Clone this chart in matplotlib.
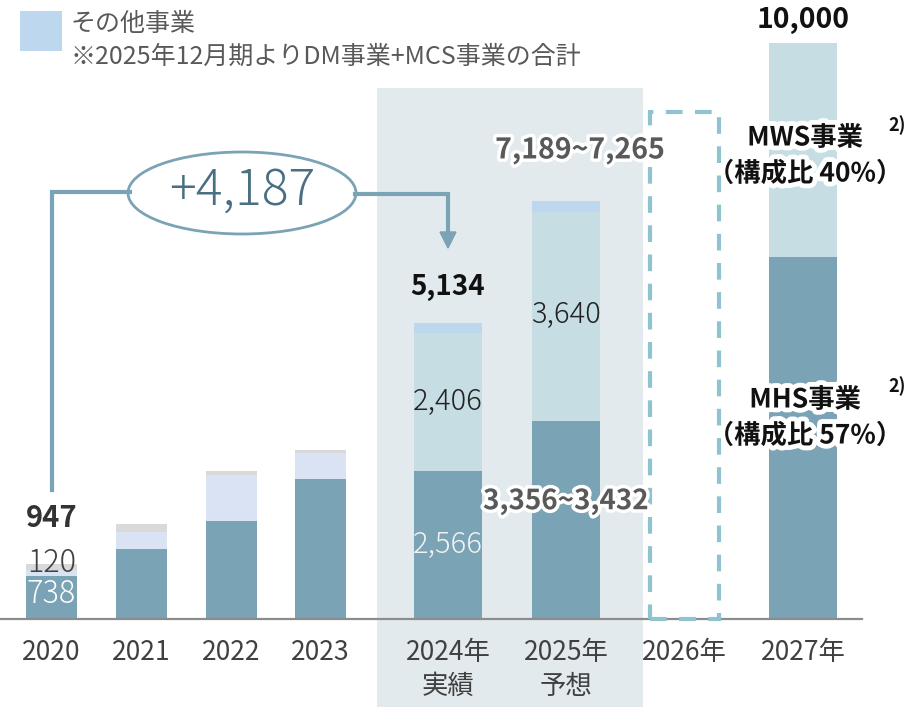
import numpy as np
import matplotlib.pyplot as plt
import matplotlib.patheffects as pe
from matplotlib.patches import Ellipse, Rectangle, Polygon

plt.rcParams['font.family'] = ['Noto Sans CJK JP', 'DejaVu Sans']

# data (百万円)
years = ['2020', '2021', '2022', '2023', '2024年\n実績', '2025年\n予想', '2026年', '2027年']
main = [738, 1215, 1700, 2430, 2566, 3432, 0, 6285]      # MHS事業
second = [120, 295, 800, 450, 2406, 3640, 0, 3715]      # MWS事業
other = [0, 0, 0, 0, 162, 193, 0, 0]                    # その他事業
misc = [89, 140, 70, 60, 0, 0, 0, 0]                    # 旧区分その他
totals = ['947', '', '', '', '5,134', '7,189~7,265', '', '10,000']

# layout (x in pixels)
xpos = [51.5, 141.5, 231, 320.5, 448, 566, 684.5, 803]
widths = [51, 51, 51, 51, 68, 68, 68, 68]
scale = 0.0576  # px per unit
base = 619

c_dark = '#7aa3b5'
c_mws = '#c5dde3'
c_old = '#dae3f3'
c_other = '#bdd7ee'
c_grey = '#d9d9d9'

fig = plt.figure(figsize=(9.16, 7.07), dpi=100)
ax = fig.add_axes([0, 0, 1, 1])
ax.set_xlim(0, 916)
ax.set_ylim(-(707 - base) / scale, base / scale)
ax.axis('off')

# shaded block for 2024/2025
ax.add_patch(Rectangle((377, -(707 - base) / scale), 266, (707 - 88) / scale,
                       color='#e3eaee', zorder=0, lw=0))

mws_col = [c_old] * 4 + [c_mws] * 4
bottom = np.zeros(len(years))
for vals, cols in [(main, [c_dark] * 8), (second, mws_col), (other, [c_other] * 8), (misc, [c_grey] * 8)]:
    ax.bar(xpos, vals, width=widths, bottom=bottom, color=cols, zorder=2, lw=0)
    bottom = bottom + np.array(vals)

ax.axhline(0, xmin=0, xmax=862 / 916, color='#8c8c8c', lw=1.6, zorder=3)

# 2026 dashed box
ax.add_patch(Rectangle((650, 0), 69, (base - 112) / scale, fill=False,
                       ec='#8fc3cf', lw=3, ls=(0, (4, 3)), zorder=3))

# tick labels
for x, lab in zip(xpos, years):
    lines = lab.split('\n')
    ax.annotate(lines[0], (x, 0), xytext=(0, -34), textcoords='offset pixels',
                ha='center', va='center', fontsize=19, color='#404040')
    if len(lines) > 1:
        ax.annotate(lines[1], (x, 0), xytext=(0, -67), textcoords='offset pixels',
                    ha='center', va='center', fontsize=19, color='#404040')

glow = [pe.withStroke(linewidth=5, foreground='white')]
glow2 = [pe.withStroke(linewidth=7, foreground='white')]

def lab(x, v, dy, s, **kw):
    ax.annotate(s, (x, v), xytext=(0, dy), textcoords='offset pixels',
                ha='center', va='center', zorder=6, **kw)

lab(xpos[0], 947, 46, totals[0], fontsize=21, fontweight='bold', color='#333333')
lab(xpos[0], 947, 1, '120', fontsize=22, color='#404040', fontweight='light')
lab(xpos[0], 0, 25, '738', fontsize=22, color='white', fontweight='light')
lab(xpos[4], 5134, 36, totals[4], fontsize=20, fontweight='bold', color='#111111')
lab(xpos[4], 2566, 69, '2,406', fontsize=21, color='#222222', fontweight='light')
lab(xpos[4], 0, 74, '2,566', fontsize=21, color='#f2f2f2', fontweight='light')
lab(xpos[5], 3432 + 3640, -103, '3,640', fontsize=21, color='#222222', fontweight='light')
lab(xpos[5] + 14, 7265, 50, totals[5], fontsize=20.5, fontweight='bold', color='#595959', path_effects=glow)
lab(xpos[5], 3432, -80, '3,356~3,432', fontsize=20, fontweight='bold', color='#595959', path_effects=glow)
lab(xpos[7], 10000, 23, totals[7], fontsize=20.5, fontweight='bold', color='#111111')

# segment names for 2027
for s, y in [('MWS事業', 138), ('（構成比 40%）', 174), ('MHS事業', 400), ('（構成比 57%）', 436)]:
    ax.annotate(s, (805, 0), xytext=(0, base - y), textcoords='offset pixels',
                ha='center', va='center', fontsize=19, fontweight='bold', color='#111111',
                path_effects=glow2, zorder=6)
for y in [125, 386]:
    ax.annotate('2)', (897, 0), xytext=(0, base - y), textcoords='offset pixels',
                ha='center', va='center', fontsize=13, fontweight='bold', color='#111111')

# overlay in pixel coordinates for the callout and legend
ov = fig.add_axes([0, 0, 1, 1], facecolor='none')
ov.set_xlim(0, 916)
ov.set_ylim(707, 0)
ov.axis('off')

line_c = '#7aa3b5'
ov.plot([52, 52, 130], [490, 192, 192], color=line_c, lw=3, solid_joinstyle='miter')
ov.plot([355, 448, 448], [194, 194, 234], color=line_c, lw=3, solid_joinstyle='miter')
ov.add_patch(Polygon([[440, 232], [456, 232], [448, 248]], closed=True, color=line_c))
ov.add_patch(Ellipse((242, 193), 228, 82, fc='white', ec=line_c, lw=2))
ov.text(242, 191, '+4,187', ha='center', va='center', fontsize=36,
        color='#4a6f82', fontweight='light')

ov.add_patch(Rectangle((20, 11), 42, 40, color=c_other, lw=0))
ov.text(70, 24, 'その他事業', ha='left', va='center', fontsize=18, color='#595959')
ov.text(70, 57, '※2025年12月期よりDM事業+MCS事業の合計', ha='left', va='center',
        fontsize=18, color='#595959')

fig.savefig('out.png', dpi=100)
